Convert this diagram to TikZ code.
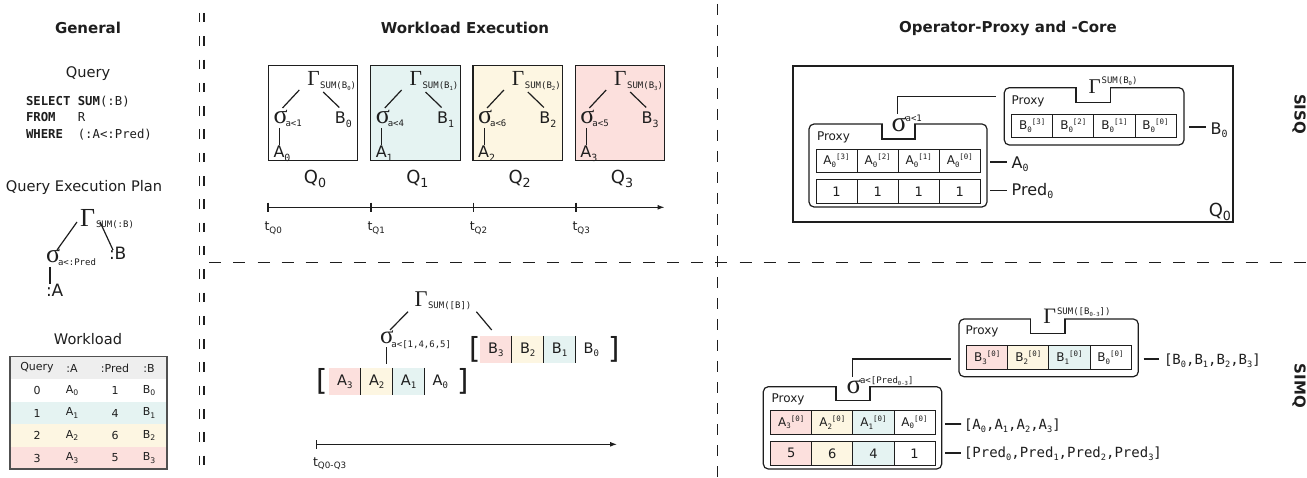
\documentclass[tikz,border=0pt]{standalone}
\usepackage{fontspec}
\setmainfont{DejaVu Sans}
\setmonofont{DejaVu Sans Mono}
\newfontfamily\grk{Liberation Serif}
\usetikzlibrary{calc,arrows.meta}

\definecolor{cTeal}{RGB}{229,243,242}
\definecolor{cYel}{RGB}{253,246,226}
\definecolor{cRed}{RGB}{252,224,221}
\definecolor{cHead}{RGB}{238,238,238}
\definecolor{ink}{RGB}{30,30,30}
\definecolor{frame}{RGB}{80,80,80}

\newcommand\fs[1]{\fontsize{#1}{#1}\selectfont}
\newcommand\lo[1]{\raisebox{-0.22em}{\scalebox{0.62}{\ttfamily #1}}}
\newcommand\hi[1]{\raisebox{0.42em}{\scalebox{0.62}{\ttfamily #1}}}
\newcommand\los[1]{\raisebox{-0.22em}{\scalebox{0.7}{#1}}}

\tikzset{
  every node/.style={inner sep=0pt, outer sep=0pt, text=ink},
  ttl/.style={font=\bfseries\fs{15}},
  lbl/.style={font=\fs{14.6}},
  greek/.style={font=\grk\fs{#1}, anchor=base west},
  scr/.style={font=\ttfamily\fs{9}, anchor=base west},
  link/.style={draw=ink, line width=1.2pt},
  namelink/.style={draw=ink, line width=1.8pt},
  qbox/.style={draw=ink, line width=1.2pt, minimum width=89.5pt, minimum height=95pt, anchor=north west},
  acell/.style={minimum width=31.8pt, minimum height=27pt, anchor=north west, font=\fs{14.5}},
  sep/.style={draw=ink, line width=1.2pt},
  pcell/.style={draw=ink, line width=0.9pt, minimum width=41.1pt, anchor=north west, font=\fs{12}},
  pframe/.style={draw=ink, line width=1.2pt, rounded corners=5pt, anchor=north west},
  tline/.style={draw=ink, line width=1.1pt},
  tlab/.style={font=\fs{12.5}, anchor=base west},
  brk/.style={font=\fs{29}},
  side/.style={font=\bfseries\fs{15}, rotate=-90},
  tcell/.style={font=\fs{11}},
  plabel/.style={font=\fs{16}, anchor=base west},
  mlabel/.style={font=\ttfamily\fs{14}, anchor=base west},
  ptext/.style={font=\fs{12}, anchor=west},
}

\begin{document}
\begin{tikzpicture}[x=1pt, y=-1pt]
\useasboundingbox (0,0) rectangle (1307,478);
\fill[white] (0,0) rectangle (1307,478);

% ---------- section dividers ----------
\draw[ink, line width=1.6pt, dash pattern=on 9.5pt off 13.8pt] (199.5,13) -- (199.5,478);
\draw[ink, line width=1.6pt, dash pattern=on 9.5pt off 13.8pt] (203.8,13) -- (203.8,478);
\draw[ink, line width=1.4pt, dash pattern=on 12pt off 12.1pt] (209.3,262.3) -- (1307,262.3);
\draw[ink, line width=1.4pt, dash pattern=on 11pt off 10pt] (717.7,4) -- (717.7,478);

% ---------- titles ----------
\node[ttl] (tGen) at (88,28) {General};
\node[ttl] (tWE) at (465,28) {Workload Execution};
\node[ttl] (tOP) at (1008,28) {Operator-Proxy and -Core};
\node[side] (sisqT) at (1299,114) {SISQ};
\node[side] (simqT) at (1299,386) {SIMQ};

% ---------- general: query ----------
\node[lbl] (tQuery) at (88,74) {Query};
\node[anchor=west, align=left, font=\ttfamily\fontsize{12.3}{16.5}\selectfont] (sql) at (26,118)
  {\textbf{SELECT} \textbf{SUM}(:B)\\\textbf{FROM}\ \ \ R\\\textbf{WHERE}\ \ (:A<:Pred)};

% ---------- general: plan ----------
\node[lbl] (tQEP) at (84,187) {Query Execution Plan};
\node[greek=26] (lg) at (80,227) {Γ};
\node[scr] (lgs) at ($(lg.base east)+(1,1)$) {SUM(:B)};
\node[greek=26] (ls) at (46,263) {σ};
\node[scr] (lss) at ($(ls.base east)+(-2,2.5)$) {a<:Pred};
\node[font=\fs{17}, anchor=base west] (lB) at (109,260) {:B};
\node[font=\fs{17}, anchor=base west] (lA) at (46,297) {:A};
\draw[link] ($(lg.base west)+(-3,-5)$) -- ($(ls.base west)+(11,-13)$);
\draw[link] ($(lgs.base west)+(4,-6)$) -- ($(lB.base west)+(4,-10)$);
\draw[link] ($(ls.base west)+(4,4)$) coordinate (lv) -- ($(lv |- lA.north)+(0,-1)$);

% ---------- general: workload table ----------
\node[lbl] (tWL) at (88,339) {Workload};
\foreach \r/\c in {0/cHead,1/white,2/cTeal,3/cYel,4/cRed}
  \fill[\c] (10,{356.5+22.5*\r}) rectangle (167,{379+22.5*\r});
\draw[frame, line width=1.5pt] (10,356.5) rectangle (167,469);
\foreach \r/\q/\a/\p/\b in {0/Query/:A/:Pred/:B,
    1/0/A\los{0}/1/B\los{0}, 2/1/A\los{1}/4/B\los{1},
    3/2/A\los{2}/6/B\los{2}, 4/3/A\los{3}/5/B\los{3}}{
  \node[tcell] (tq\r) at (37,{368+22.5*\r}) {\q};
  \node[tcell] (ta\r) at (72,{368+22.5*\r}) {\a};
  \node[tcell] (tp\r) at (115,{368+22.5*\r}) {\p};
  \node[tcell] (tb\r) at (149,{368+22.5*\r}) {\b};
}

% ---------- workload execution: single queries ----------
\foreach \i/\fc/\p in {0/white/1,1/cTeal/4,2/cYel/6,3/cRed/5}{
  \node[qbox, fill=\fc] (qb\i) at ({268.3+102.3*\i},65.7) {};
  \node[greek=21.5] (qg\i) at ($(qb\i.north west)+(39,20.3)$) {Γ};
  \node[scr] (qgs\i) at ($(qg\i.base east)+(0.5,3)$) {SUM(B\lo{\i})};
  \node[greek=26] (qs\i) at ($(qb\i.north west)+(5.2,58.3)$) {σ};
  \node[scr] (qss\i) at ($(qs\i.base east)+(-2,3)$) {a<\p};
  \node[font=\fs{16}, anchor=base west] (qB\i) at ($(qb\i.north west)+(66.5,58.3)$) {B\lo{\i}};
  \node[font=\fs{16}, anchor=base west] (qA\i) at ($(qb\i.north west)+(5.2,92.3)$) {A\lo{\i}};
  \draw[link] ($(qg\i.base west)+(-8,4)$) -- ($(qs\i.base west)+(9,-16)$);
  \draw[link] ($(qgs\i.base west)+(3,3)$) -- ($(qB\i.base west)+(4.5,-16.5)$);
  \draw[link] ($(qs\i.base west)+(6,4)$) coordinate (qv\i) -- ($(qv\i |- qA\i.north)+(0,-1.5)$);
  \node[font=\fs{18}] (qq\i) at ($(qb\i.south)+(2,18)$) {Q\los{\i}};
}
\coordinate (t0) at (268,207.3);
\coordinate (tE) at (664.5,207.3);
\draw[tline, -{Latex[length=7pt,width=5pt]}] (t0) -- (tE);
\foreach \x/\n in {268/0,371/1,473.3/2,576/3}{
  \draw[tline] (\x,202.7) -- (\x,211.7);
  \node[tlab] (tl\n) at (\x-3.5,231) {t\los{Q\n}};
}

% ---------- workload execution: merged queries ----------
\node[greek=22.5] (mg) at (414.5,306.7) {Γ};
\node[scr] (mgs) at ($(mg.base east)+(0.5,2.3)$) {SUM([B])};
\node[greek=25] (ms) at (380,343.3) {σ};
\node[scr] (mss) at ($(ms.base east)+(-2,4)$) {a<[1,4,6,5]};

\node[acell, fill=cRed] (ma3) at (329,368) {A\lo3};
\node[acell, fill=cYel] (ma2) at (ma3.north east) {A\lo2};
\node[acell, fill=cTeal] (ma1) at (ma2.north east) {A\lo1};
\node[acell] (ma0) at (ma1.north east) {A\lo0};
\foreach \c in {ma3,ma2,ma1} \draw[sep] (\c.north east) -- (\c.south east);
\node[brk] (mal) at (321.7,381.5) {[};
\node[brk] (mar) at (463,381.5) {]};

\node[acell, fill=cRed] (mb3) at (480,336) {B\lo3};
\node[acell, fill=cYel] (mb2) at (mb3.north east) {B\lo2};
\node[acell, fill=cTeal] (mb1) at (mb2.north east) {B\lo1};
\node[acell] (mb0) at (mb1.north east) {B\lo0};
\foreach \c in {mb3,mb2,mb1} \draw[sep] (\c.north east) -- (\c.south east);
\node[brk] (mbl) at (474.8,349.7) {[};
\node[brk] (mbr) at (613.8,349.7) {]};

\draw[link] ($(mg.base west)+(-6.5,5)$) -- ($(ms.base west)+(10,-13.3)$);
\draw[link] ($(mgs.base east)+(5,2.7)$) -- ($(mb3.north west)+(11.7,-6)$);
\draw[link] ($(ms.base west)+(6.5,4)$) coordinate (mv) -- ($(mv |- ma3.north)+(0,-3.7)$);

\coordinate (u0) at (316.7,444.3);
\coordinate (uE) at (617,444.3);
\draw[tline, -{Latex[length=7pt,width=5pt]}] (u0) -- (uE);
\draw[tline] (316.7,440) -- (316.7,449);
\node[tlab] (tl03) at (313,466) {t\los{Q0-Q3}};

% ---------- operator proxy: single query ----------
\node[draw=ink, line width=1.3pt, minimum width=440pt, minimum height=156pt, anchor=north west] (sisq) at (793,66) {};
\node[font=\fs{18}, anchor=base east] (sisqQ) at (1231,216.5) {Q\los0};

% selection proxy
\node[pframe, minimum width=178pt, minimum height=83pt] (pa) at (809,124) {};
\fill[white] ($(pa.north west)+(73.6,-2)$) rectangle ($(pa.north west)+(105.4,2)$);
\draw[link] ($(pa.north west)+(73,0)$) -- ++(0,15) -- ++(33,0) -- ++(0,-15);
\node[ptext] (paT) at (817,137.7) {Proxy};
\node[pcell, minimum height=23pt] (pa3) at (816,149.3) {A\lo0\hi{[3]}};
\node[pcell, minimum height=23pt] (pa2) at (pa3.north east) {A\lo0\hi{[2]}};
\node[pcell, minimum height=23pt] (pa1) at (pa2.north east) {A\lo0\hi{[1]}};
\node[pcell, minimum height=23pt] (pa0) at (pa1.north east) {A\lo0\hi{[0]}};
\node[pcell, minimum height=24pt, font=\fs{13}] (pp3) at (816,179.3) {1};
\node[pcell, minimum height=24pt, font=\fs{13}] (pp2) at (pp3.north east) {1};
\node[pcell, minimum height=24pt, font=\fs{13}] (pp1) at (pp2.north east) {1};
\node[pcell, minimum height=24pt, font=\fs{13}] (pp0) at (pp1.north east) {1};
\node[plabel] (laA) at (1011.7,168.3) {A\lo0};
\node[plabel] (laP) at (1011.7,195.3) {Pred\lo0};
\draw[namelink] ($(pa0.east)+(9.7,1.5)$) -- ($(laA.base west)+(-5,-6)$);
\draw[namelink] ($(pp0.east)+(9.7,-0.8)$) -- ($(laP.base west)+(-5,-4.8)$);
\node[greek=28] (ps) at (891.5,131.7) {σ};
\node[scr] (pss) at ($(ps.base east)+(-1,-10)$) {a<1};

% aggregation proxy
\node[pframe, minimum width=179.7pt, minimum height=57.3pt] (pb) at (1004.3,87.7) {};
\fill[white] ($(pb.north west)+(72.3,-2)$) rectangle ($(pb.north west)+(105.8,2)$);
\draw[link] ($(pb.north west)+(71.7,0)$) -- ++(0,14.6) -- ++(34.7,0) -- ++(0,-14.6);
\node[greek=21] (pg) at (1088.5,94) {Γ};
\node[scr] (pgs) at ($(pg.base east)+(1,-10)$) {SUM(B\lo0)};
\node[ptext] (pbT) at (1011.7,101) {Proxy};
\node[pcell, minimum height=23.4pt] (pb3) at (1011.7,114.3) {B\lo0\hi{[3]}};
\node[pcell, minimum height=23.4pt] (pb2) at (pb3.north east) {B\lo0\hi{[2]}};
\node[pcell, minimum height=23.4pt] (pb1) at (pb2.north east) {B\lo0\hi{[1]}};
\node[pcell, minimum height=23.4pt] (pb0) at (pb1.north east) {B\lo0\hi{[0]}};
\node[plabel] (lbB) at (1210.7,134.3) {B\lo0};
\draw[namelink] ($(pb0.east)+(13.3,1.3)$) -- ($(lbB.base west)+(-5,-7)$);

\coordinate (pj) at ($(pb.north west)+(-8.3,9)$);
\draw[link] ($(ps.base west)+(6,-17.7)$) |- (pj);

% ---------- operator proxy: multiple queries ----------
\node[pframe, minimum width=179.3pt, minimum height=57.7pt] (nb) at (959,319) {};
\fill[white] ($(nb.north west)+(72.3,-2)$) rectangle ($(nb.north west)+(105.4,2)$);
\draw[link] ($(nb.north west)+(71.7,0)$) -- ++(0,14.3) -- ++(34.3,0) -- ++(0,-14.3);
\node[greek=22] (ng) at (1043.3,324) {Γ};
\node[scr] (ngs) at ($(ng.base east)+(1,-9)$) {SUM([B\lo{0-3}])};
\node[ptext] (nbT) at (965.7,331.7) {Proxy};
\node[pcell, minimum height=23.6pt, fill=cRed] (nb3) at (966.7,345.7) {B\lo3\hi{[0]}};
\node[pcell, minimum height=23.6pt, fill=cYel] (nb2) at (nb3.north east) {B\lo2\hi{[0]}};
\node[pcell, minimum height=23.6pt, fill=cTeal] (nb1) at (nb2.north east) {B\lo1\hi{[0]}};
\node[pcell, minimum height=23.6pt] (nb0) at (nb1.north east) {B\lo0\hi{[0]}};
\node[mlabel] (lnB) at (1164,364) {[B\lo0,B\lo1,B\lo2,B\lo3]};
\draw[namelink] ($(nb0.east)+(12.6,1.5)$) -- ($(lnB.base west)+(-4.7,-5)$);

\node[pframe, minimum width=178.4pt, minimum height=82.3pt] (na) at (763.3,386.7) {};
\fill[white] ($(na.north west)+(73.3,-2)$) rectangle ($(na.north west)+(106.1,2)$);
\draw[link] ($(na.north west)+(72.7,0)$) -- ++(0,14) -- ++(34,0) -- ++(0,-14);
\node[greek=27] (ns) at (846.5,393.3) {σ};
\node[scr] (nss) at ($(ns.base east)+(-1,-10)$) {a<[Pred\lo{0-3}]};
\node[ptext] (naT) at (771.7,399) {Proxy};
\node[pcell, minimum height=23.3pt, fill=cRed] (na3) at (770.7,410.7) {A\lo3\hi{[0]}};
\node[pcell, minimum height=23.3pt, fill=cYel] (na2) at (na3.north east) {A\lo2\hi{[0]}};
\node[pcell, minimum height=23.3pt, fill=cTeal] (na1) at (na2.north east) {A\lo1\hi{[0]}};
\node[pcell, minimum height=23.3pt] (na0) at (na1.north east) {A\lo0\hi{[0]}};
\node[pcell, minimum height=23.3pt, fill=cRed, font=\fs{13}] (np3) at (770.7,441.7) {5};
\node[pcell, minimum height=23.3pt, fill=cYel, font=\fs{13}] (np2) at (np3.north east) {6};
\node[pcell, minimum height=23.3pt, fill=cTeal, font=\fs{13}] (np1) at (np2.north east) {4};
\node[pcell, minimum height=23.3pt, font=\fs{13}] (np0) at (np1.north east) {1};
\node[mlabel] (lnA) at (964,429) {[A\lo0,A\lo1,A\lo2,A\lo3]};
\node[mlabel] (lnP) at (964,457.7) {[Pred\lo0,Pred\lo1,Pred\lo2,Pred\lo3]};
\draw[namelink] ($(na0.east)+(10,1.65)$) -- ($(lnA.base west)+(-3,-5)$);
\draw[namelink] ($(np0.east)+(10,-0.65)$) -- ($(lnP.base west)+(-3,-5)$);

\coordinate (nj) at ($(nb.north west)+(-8.3,40)$);
\draw[link] ($(ns.base west)+(5.8,-16.6)$) |- (nj);
\end{tikzpicture}
\end{document}
